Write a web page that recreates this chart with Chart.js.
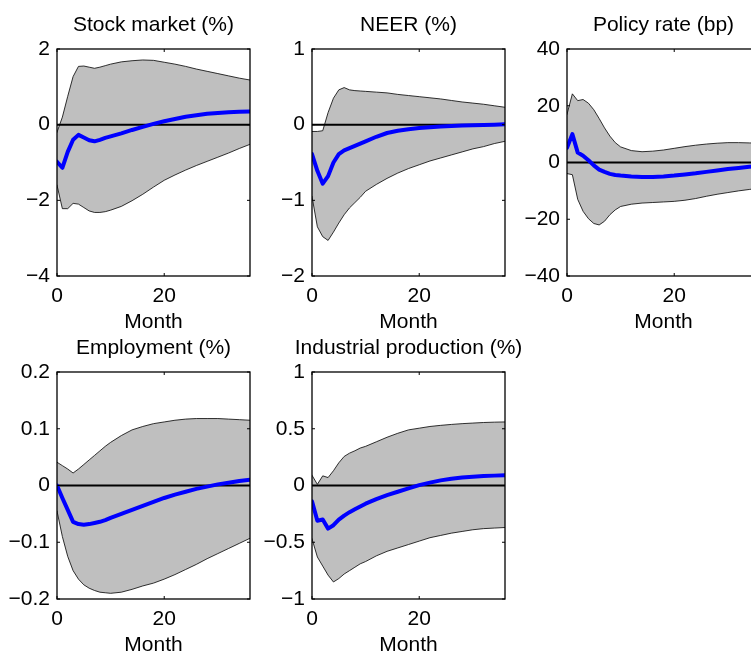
<!DOCTYPE html>
<html lang="en">
<head>
    <meta charset="UTF-8">
    <title>Impulse responses</title>
    <script src="https://cdn.jsdelivr.net/npm/chart.js"></script>
    <style>
        html, body { margin: 0; padding: 0; background: #fff; overflow: hidden; }
        #wrap { position: relative; width: 751px; height: 654px; overflow: hidden; }
        #wrap canvas { position: absolute; }
    </style>
</head>
<body>
    <div id="wrap">
        <canvas id="stock" width="307" height="336" style="left:0px;top:0px"></canvas>
        <canvas id="neer" width="307" height="336" style="left:255px;top:0px"></canvas>
        <canvas id="policy" width="307" height="336" style="left:510px;top:0px"></canvas>
        <canvas id="employment" width="307" height="336" style="left:0px;top:323px"></canvas>
        <canvas id="ip" width="307" height="336" style="left:255px;top:323px"></canvas>
    </div>

    <script>
        // months shown on the horizontal axis
        const months = [0, 1, 2, 3, 4, 5, 6, 7, 8, 9, 10, 12, 14, 16, 18, 20, 22, 24, 26, 28, 30, 32, 34, 36];
        const monthTicks = [0, 20];

        // Stock market (%)
        const stockUpper = [-0.2, 0.2, 0.75, 1.27, 1.54, 1.55, 1.52, 1.49, 1.52, 1.56, 1.6, 1.66, 1.69, 1.71, 1.7, 1.65, 1.6, 1.54, 1.47, 1.41, 1.35, 1.29, 1.23, 1.18];
        const stockLower = [-1.6, -2.22, -2.22, -2.08, -2.1, -2.19, -2.28, -2.32, -2.32, -2.3, -2.26, -2.16, -2.01, -1.84, -1.65, -1.47, -1.33, -1.2, -1.08, -0.97, -0.86, -0.75, -0.63, -0.52];
        const stockIrf = [-0.98, -1.14, -0.72, -0.4, -0.27, -0.34, -0.41, -0.44, -0.4, -0.35, -0.31, -0.23, -0.14, -0.06, 0.02, 0.09, 0.15, 0.21, 0.25, 0.29, 0.31, 0.33, 0.34, 0.35];
        const stockTicks = [-4, -2, 0, 2];

        // NEER (%)
        const neerUpper = [-0.09, -0.09, -0.08, 0.16, 0.35, 0.46, 0.49, 0.46, 0.45, 0.445, 0.44, 0.43, 0.42, 0.4, 0.385, 0.37, 0.355, 0.34, 0.32, 0.3, 0.285, 0.27, 0.25, 0.23];
        const neerLower = [-0.95, -1.35, -1.48, -1.53, -1.42, -1.3, -1.19, -1.1, -1.03, -0.96, -0.88, -0.79, -0.71, -0.64, -0.58, -0.53, -0.48, -0.44, -0.4, -0.36, -0.32, -0.29, -0.25, -0.22];
        const neerIrf = [-0.39, -0.61, -0.78, -0.68, -0.5, -0.39, -0.34, -0.31, -0.28, -0.25, -0.22, -0.16, -0.11, -0.08, -0.06, -0.045, -0.035, -0.025, -0.018, -0.012, -0.007, -0.004, -0.001, 0.005];
        const neerTicks = [-2, -1, 0, 1];

        // Policy rate (bp)
        const policyUpper = [17, 24.2, 21.8, 22.2, 20.9, 18.6, 15.5, 12.2, 9.3, 7.0, 5.5, 4.2, 3.8, 4.0, 4.4, 5.0, 5.6, 6.1, 6.5, 6.8, 7.0, 7.0, 6.9, 6.8];
        const policyLower = [-3.9, -4.3, -13.0, -17.2, -19.8, -21.5, -22.0, -20.7, -18.4, -16.7, -15.5, -14.7, -14.3, -14.1, -13.9, -13.7, -13.3, -12.7, -11.9, -11.2, -10.6, -10.0, -9.5, -9.0];
        const policyIrf = [5.2, 10.0, 3.5, 2.4, 0.8, -1.0, -2.5, -3.3, -4.0, -4.4, -4.6, -4.9, -5.1, -5.1, -4.9, -4.6, -4.2, -3.8, -3.3, -2.8, -2.3, -1.9, -1.5, -1.2];
        const policyTicks = [-40, -20, 0, 20, 40];

        // Employment (%)
        const empUpper = [0.041, 0.035, 0.029, 0.022, 0.029, 0.037, 0.045, 0.053, 0.061, 0.069, 0.076, 0.088, 0.098, 0.104, 0.109, 0.112, 0.115, 0.117, 0.118, 0.118, 0.118, 0.117, 0.116, 0.115];
        const empLower = [-0.045, -0.09, -0.125, -0.15, -0.165, -0.175, -0.181, -0.185, -0.188, -0.189, -0.19, -0.188, -0.183, -0.177, -0.172, -0.165, -0.157, -0.148, -0.139, -0.129, -0.12, -0.111, -0.102, -0.093];
        const empIrf = [0.0, -0.022, -0.043, -0.064, -0.068, -0.069, -0.068, -0.066, -0.064, -0.061, -0.057, -0.05, -0.043, -0.036, -0.029, -0.022, -0.016, -0.011, -0.006, -0.002, 0.002, 0.005, 0.008, 0.01];
        const empTicks = [-0.2, -0.1, 0, 0.1, 0.2];

        // Industrial production (%)
        const ipUpper = [0.09, 0.01, 0.085, 0.07, 0.13, 0.2, 0.256, 0.285, 0.306, 0.33, 0.345, 0.385, 0.425, 0.46, 0.49, 0.505, 0.52, 0.53, 0.538, 0.545, 0.55, 0.555, 0.558, 0.56];
        const ipLower = [-0.47, -0.63, -0.71, -0.79, -0.85, -0.82, -0.78, -0.75, -0.72, -0.69, -0.67, -0.62, -0.58, -0.55, -0.52, -0.49, -0.46, -0.44, -0.42, -0.405, -0.39, -0.38, -0.375, -0.37];
        const ipIrf = [-0.14, -0.31, -0.3, -0.38, -0.35, -0.3, -0.265, -0.235, -0.21, -0.185, -0.16, -0.12, -0.085, -0.055, -0.025, 0.003, 0.025, 0.045, 0.06, 0.07, 0.078, 0.084, 0.087, 0.09];
        const ipTicks = [-1, -0.5, 0, 0.5, 1];

        const FONT = "'Liberation Sans', Arial, Helvetica, sans-serif";
        const AXIS_W = 57;
        Chart.defaults.color = '#000';
        Chart.defaults.font.family = FONT;
        Chart.defaults.font.size = 21;

        const pts = ys => months.map((m, i) => ({ x: m, y: ys[i] }));
        const fmt = v => (v < 0 ? '\u2212' + Math.abs(v) : String(v));

        // matlab style box with inward ticks
        const boxPlugin = {
            id: 'box',
            afterDraw(chart) {
                const { ctx, chartArea: a, scales } = chart;
                ctx.save();
                ctx.strokeStyle = '#000';
                ctx.lineWidth = 1.3;
                ctx.strokeRect(a.left, a.top, a.right - a.left, a.bottom - a.top);
                ctx.lineWidth = 1;
                ctx.beginPath();
                scales.x.ticks.forEach(t => {
                    const px = scales.x.getPixelForValue(t.value);
                    ctx.moveTo(px, a.bottom); ctx.lineTo(px, a.bottom - 3);
                    ctx.moveTo(px, a.top); ctx.lineTo(px, a.top + 3);
                });
                scales.y.ticks.forEach(t => {
                    const py = scales.y.getPixelForValue(t.value);
                    ctx.moveTo(a.left, py); ctx.lineTo(a.left + 3, py);
                    ctx.moveTo(a.right, py); ctx.lineTo(a.right - 3, py);
                });
                ctx.stroke();
                ctx.restore();
            }
        };

        function panel(id, title, upper, lower, irf, yTicks) {
            new Chart(document.getElementById(id), {
                type: 'line',
                data: {
                    datasets: [
                        { data: pts(upper), borderColor: '#000', borderWidth: 0.8, backgroundColor: '#bfbfbf', fill: '+1', order: 4 },
                        { data: pts(lower), borderColor: '#000', borderWidth: 0.8, fill: false, order: 3 },
                        { data: months.map(m => ({ x: m, y: 0 })), borderColor: '#000', borderWidth: 2, fill: false, order: 2 },
                        { data: pts(irf), borderColor: '#0000ff', borderWidth: 4, fill: false, order: 1 }
                    ]
                },
                options: {
                    responsive: false,
                    animation: false,
                    elements: { point: { radius: 0 }, line: { tension: 0, borderJoinStyle: 'round', borderCapStyle: 'round' } },
                    layout: { padding: 0 },
                    scales: {
                        x: {
                            type: 'linear',
                            min: months[0],
                            max: months[months.length - 1],
                            grid: { display: false, drawTicks: false },
                            border: { display: false },
                            afterBuildTicks: s => { s.ticks = monthTicks.map(v => ({ value: v })); },
                            afterFit: s => { s.height = 60; },
                            ticks: { padding: 8, maxRotation: 0, callback: v => fmt(v) },
                            title: { display: true, text: 'Month', padding: { top: 0, bottom: 1.4 } }
                        },
                        y: {
                            min: yTicks[0],
                            max: yTicks[yTicks.length - 1],
                            grid: { display: false, drawTicks: false },
                            border: { display: false },
                            afterBuildTicks: s => { s.ticks = yTicks.map(v => ({ value: v })); },
                            afterFit: s => { s.width = AXIS_W; },
                            ticks: { padding: 7, callback: v => fmt(v) }
                        },
                        // empty right axis, only keeps the plot centred under the title
                        yRight: {
                            position: 'right',
                            min: yTicks[0],
                            max: yTicks[yTicks.length - 1],
                            grid: { display: false, drawTicks: false },
                            border: { display: false },
                            ticks: { display: false },
                            afterFit: s => { s.width = AXIS_W; }
                        }
                    },
                    plugins: {
                        legend: { display: false },
                        tooltip: { enabled: false },
                        title: {
                            display: true,
                            text: title,
                            font: { size: 21, weight: 'normal' },
                            padding: { top: 12.4, bottom: 11.4 }
                        }
                    }
                },
                plugins: [boxPlugin]
            });
        }

        panel('stock', 'Stock market (%)', stockUpper, stockLower, stockIrf, stockTicks);
        panel('neer', 'NEER (%)', neerUpper, neerLower, neerIrf, neerTicks);
        panel('policy', 'Policy rate (bp)', policyUpper, policyLower, policyIrf, policyTicks);
        panel('employment', 'Employment (%)', empUpper, empLower, empIrf, empTicks);
        panel('ip', 'Industrial production (%)', ipUpper, ipLower, ipIrf, ipTicks);
    </script>
</body>
</html>
